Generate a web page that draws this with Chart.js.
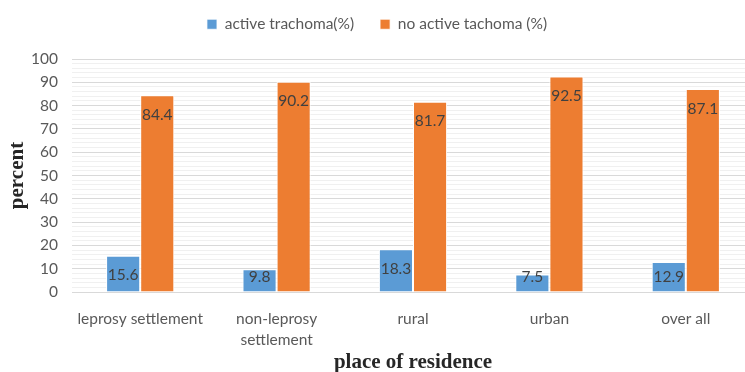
<!DOCTYPE html>
<html>
<head>
<meta charset="utf-8">
<script src="https://cdn.jsdelivr.net/npm/chart.js@4.4.1/dist/chart.umd.min.js"></script>
<style>
  html, body { margin: 0; padding: 0; background: #fff; overflow: hidden; }
  /* the reference is cut off on its right side, so the chart runs a bit past the window */
  #wrap { width: 756px; height: 372px; position: relative; }
</style>
</head>
<body>
<div id="wrap"><canvas id="residence_plot"></canvas></div>
<script>
'use strict';

// values
const categories = ['leprosy settlement', ['non-leprosy', 'settlement'], 'rural', 'urban', 'over all'];
const activeTrachoma = [15.6, 9.8, 18.3, 7.5, 12.9];
const noActiveTrachoma = [84.4, 90.2, 81.7, 92.5, 87.1];
const seriesNames = ['active trachoma(%)', 'no active tachoma (%)'];

// draws the value inside the end of each bar, like Excel does
const barLabels = {
    id: 'barLabels',
    afterDatasetsDraw(chart) {
        const ctx = chart.ctx;
        const base = chart.scales.y.getPixelForValue(0);
        ctx.save();
        ctx.font = '15.5px Lato';
        ctx.fillStyle = '#404040';
        ctx.textAlign = 'center';
        ctx.textBaseline = 'middle';
        chart.data.datasets.forEach((ds, i) => {
            chart.getDatasetMeta(i).data.forEach((bar, j) => {
                const y = Math.min(bar.y + 19.5, base - 15);
                ctx.fillText(ds.data[j].toFixed(1), bar.x, y);
            });
        });
        ctx.restore();
    }
};

// legend needs wide gaps between items but a short box
const legendHeight = {
    id: 'legendHeight',
    beforeInit(chart) {
        const legend = chart.legend;
        if (!legend) return;
        const fit = legend.fit;
        legend.fit = function () {
            fit.call(this);
            this.height = 68.5;
        };
    }
};

const residence_plot = new Chart('residence_plot', {
    type: 'bar',
    data: {
        labels: categories,
        datasets: [{
            label: seriesNames[0],
            data: activeTrachoma,
            backgroundColor: '#5B9BD5',
            borderColor: '#ffffff',
            borderWidth: {left: 1, right: 1, top: 1, bottom: 0},
            categoryPercentage: 0.5,
            barPercentage: 1
        }, {
            label: seriesNames[1],
            data: noActiveTrachoma,
            backgroundColor: '#ED7D31',
            borderColor: '#ffffff',
            borderWidth: {left: 1, right: 1, top: 1, bottom: 0},
            categoryPercentage: 0.5,
            barPercentage: 1
        }]
    },
    options: {
        responsive: true,
        maintainAspectRatio: false,
        animation: false,
        layout: {padding: {left: 0, right: 2, top: -9.5, bottom: 0}},
        plugins: {
            legend: {
                display: true,
                position: 'top',
                labels: {
                    boxWidth: 10,
                    boxHeight: 10,
                    padding: 26,
                    color: '#595959',
                    font: {family: 'Lato', size: 15.5}
                }
            },
            tooltip: {enabled: false}
        },
        scales: {
            x: {
                afterFit: (scale) => { scale.height = 80; },
                grid: {display: false, drawTicks: false, tickLength: 0},
                border: {color: '#D9D9D9'},
                ticks: {
                    color: '#595959',
                    font: {family: 'Lato', size: 15.5, lineHeight: 1.35},
                    maxRotation: 0,
                    padding: 16.5
                },
                title: {
                    display: true,
                    text: 'place of residence',
                    color: '#262626',
                    font: {family: 'Liberation Serif', size: 21, weight: 'bold', lineHeight: 1},
                    padding: {top: 0, bottom: -1.5}
                }
            },
            y: {
                afterFit: (scale) => { scale.width = 72; },
                min: 0,
                max: 100,
                border: {display: false},
                grid: {
                    color: (c) => (c.tick.value % 10 === 0 ? '#D9D9D9' : '#F0F0F0'),
                    drawTicks: false,
                    tickLength: 0
                },
                ticks: {
                    stepSize: 2,
                    autoSkip: false,
                    padding: 14,
                    color: '#595959',
                    font: {family: 'Lato', size: 15.5},
                    callback: (v) => (v % 10 === 0 ? v : '')
                },
                title: {
                    display: true,
                    text: 'percent',
                    color: '#262626',
                    font: {family: 'Liberation Serif', size: 21, weight: 'bold', lineHeight: 1},
                    padding: {top: 7.5, bottom: 0}
                }
            }
        }
    },
    plugins: [barLabels, legendHeight]
});
</script>
</body>
</html>
